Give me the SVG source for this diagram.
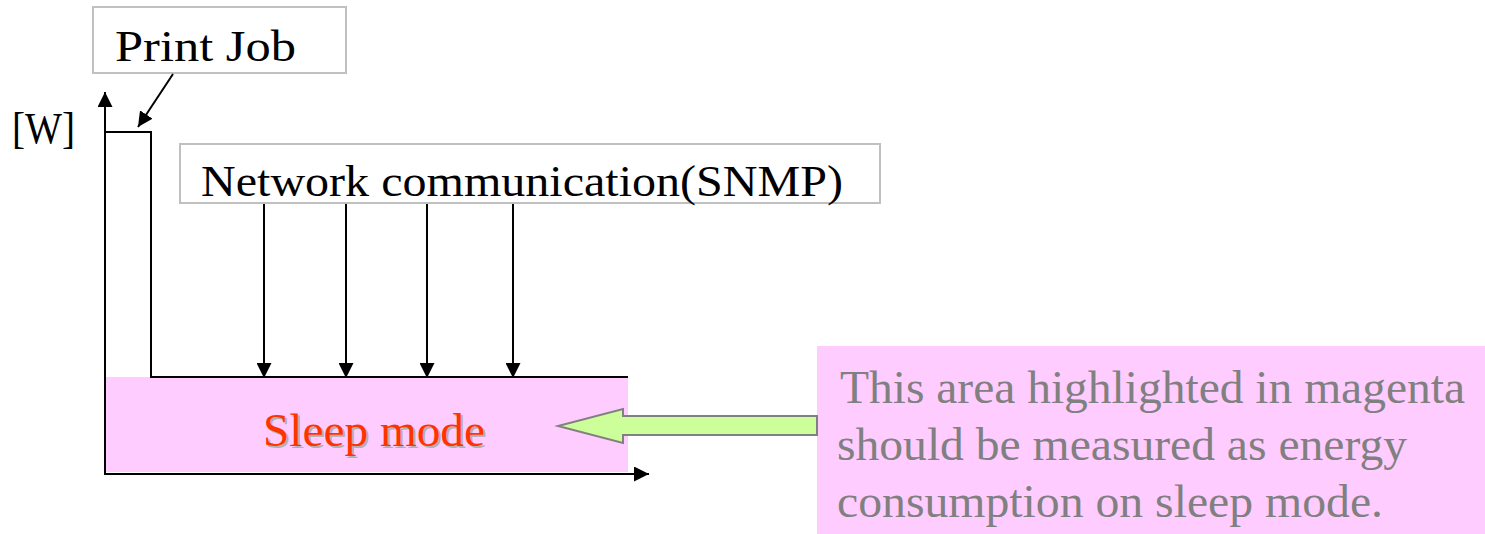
<svg xmlns="http://www.w3.org/2000/svg" width="1485" height="534" viewBox="0 0 1485 534">
<style>
.lbl{font-family:"Liberation Serif","Times New Roman",serif;fill:#000}
.box{fill:#fff;stroke:#c0c0c0;stroke-width:2}
.ln{stroke:#000;stroke-width:2;fill:none}
.note{font-family:"Liberation Serif","Times New Roman",serif;font-size:47px;fill:#808080}
</style>
<defs>
<marker id="ah" viewBox="0 0 14 14" refX="14" refY="7" markerWidth="15" markerHeight="15" markerUnits="userSpaceOnUse" orient="auto">
<path d="M0,0 L14,7 L0,14 Z" fill="#000"/>
</marker>
</defs>
<rect width="1485" height="534" fill="#fff"/>
<g id="sleep-area">
<rect x="105" y="377" width="523" height="95" fill="#ffccff"/>
<text x="265" y="448" class="lbl" font-size="47" style="fill:#b0b0b0" textLength="222" lengthAdjust="spacingAndGlyphs">Sleep mode</text>
<text x="263" y="446" class="lbl" font-size="47" style="fill:#ff3300" textLength="222" lengthAdjust="spacingAndGlyphs">Sleep mode</text>
</g>
<g id="axes">
<line x1="105" y1="474" x2="105" y2="92" class="ln" marker-end="url(#ah)"/>
<line x1="104" y1="474" x2="649" y2="474" class="ln" marker-end="url(#ah)"/>
<text x="12" y="143" class="lbl" font-size="44" textLength="63" lengthAdjust="spacingAndGlyphs">[W]</text>
</g>
<g id="power-curve">
<polyline points="105,132 151,132 151,377 628,377" class="ln"/>
</g>
<g id="print-job">
<rect x="93" y="7" width="253" height="66" class="box"/>
<text x="115" y="61" class="lbl" font-size="44" textLength="181" lengthAdjust="spacingAndGlyphs">Print Job</text>
</g>
<g id="network">
<rect x="180" y="144" width="700" height="59" class="box"/>
<text x="201" y="196" class="lbl" font-size="44" textLength="642" lengthAdjust="spacingAndGlyphs">Network communication(SNMP)</text>
</g>
<g id="note">
<rect x="817" y="346" width="668" height="188" fill="#ffccff"/>
<text x="840" y="403" class="note" textLength="625" lengthAdjust="spacingAndGlyphs">This area highlighted in magenta</text>
<text x="837" y="460" class="note" textLength="570" lengthAdjust="spacingAndGlyphs">should be measured as energy</text>
<text x="837" y="517" class="note" textLength="546" lengthAdjust="spacingAndGlyphs">consumption on sleep mode.</text>
</g>
<g id="connectors">
<line x1="173" y1="74" x2="138" y2="127" class="ln" stroke-width="1.6" marker-end="url(#ah)"/>
<line x1="264" y1="204" x2="264" y2="378" class="ln" marker-end="url(#ah)"/>
<line x1="346" y1="204" x2="346" y2="378" class="ln" marker-end="url(#ah)"/>
<line x1="427" y1="204" x2="427" y2="378" class="ln" marker-end="url(#ah)"/>
<line x1="513" y1="204" x2="513" y2="378" class="ln" marker-end="url(#ah)"/>
<path d="M817,416 L623,416 L623,409 L558,426 L623,443 L623,435 L817,435 Z" fill="#ccff99" stroke="#808080" stroke-width="2"/>
</g>
</svg>
